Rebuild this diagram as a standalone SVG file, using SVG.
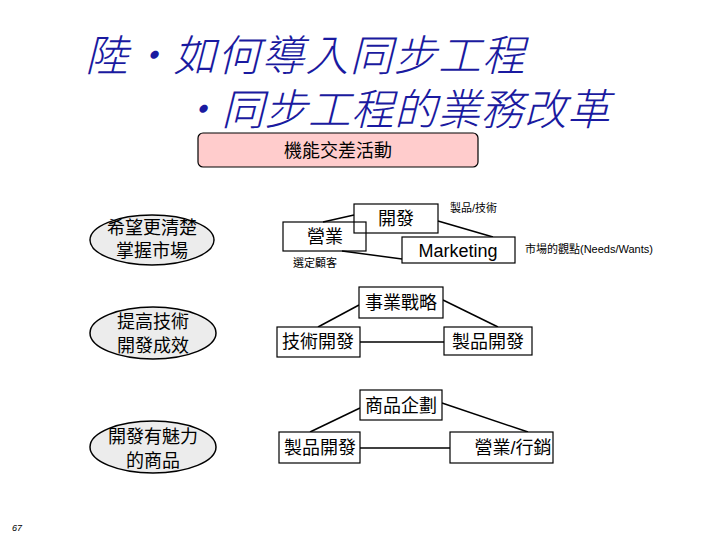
<svg xmlns="http://www.w3.org/2000/svg" width="720" height="540" viewBox="0 0 720 540">
<style>
.title{font-family:"Noto Sans CJK TC","Liberation Sans",sans-serif;font-style:italic;font-weight:300;fill:#1a1aa0;font-size:43px}
.t{font-family:"Liberation Sans","Noto Sans CJK TC",sans-serif;fill:#000;font-size:18px;text-anchor:middle}
.s{font-family:"Liberation Sans","Noto Sans CJK TC",sans-serif;fill:#000;font-size:11px}
.box{fill:#fff;stroke:#000;stroke-width:1.2}
.obox{fill:none;stroke:#000;stroke-width:1.2}
.ell{fill:#ececec;stroke:#000;stroke-width:1.5}
.ln{stroke:#000;stroke-width:1.5;fill:none}
</style>
<rect width="720" height="540" fill="#fff"/>
<g id="title">
<text class="title" x="85" y="71" textLength="440" lengthAdjust="spacing">陸・如何導入同步工程</text>
<text class="title" x="178" y="125" textLength="432" lengthAdjust="spacing">・同步工程的業務改革</text>
</g>
<g id="header">
<rect x="198" y="133" width="280" height="34" rx="5" fill="#ffcccc" stroke="#000" stroke-width="1.2"/>
<text class="t" x="338" y="157" font-size="17">機能交差活動</text>
</g>
<g id="connectors">
<line class="ln" x1="323" y1="222" x2="354" y2="215"/>
<line class="ln" x1="438" y1="221" x2="493" y2="237"/>
<line class="ln" x1="342" y1="251" x2="402" y2="259"/>
<line class="ln" x1="318" y1="327" x2="359" y2="305"/>
<line class="ln" x1="443" y1="300" x2="498" y2="327"/>
<line class="ln" x1="360" y1="342" x2="444" y2="342"/>
<line class="ln" x1="310" y1="432" x2="360" y2="408"/>
<line class="ln" x1="442" y1="403" x2="528" y2="432"/>
<line class="ln" x1="360" y1="448" x2="450" y2="448"/>
</g>
<g id="ellipse1">
<ellipse class="ell" cx="152" cy="240" rx="62" ry="25"/>
<text class="t" x="152" y="234">希望更清楚</text>
<text class="t" x="152" y="257">掌握市場</text>
</g>
<g id="ellipse2">
<ellipse class="ell" cx="153" cy="333" rx="63" ry="26"/>
<text class="t" x="153" y="328">提高技術</text>
<text class="t" x="153" y="352">開發成效</text>
</g>
<g id="ellipse3">
<ellipse class="ell" cx="153" cy="447" rx="63" ry="26"/>
<text class="t" x="153" y="443">開發有魅力</text>
<text class="t" x="153" y="467">的商品</text>
</g>
<g id="eigyo">
<rect class="obox" x="283" y="222" width="83" height="29"/>
<text class="t" x="325" y="243">營業</text>
</g>
<g id="kaihatsu">
<rect class="obox" x="354" y="204" width="84" height="29"/>
<text class="t" x="396" y="225">開發</text>
</g>
<g id="marketing">
<rect class="box" x="402" y="237" width="113" height="26"/>
<text class="t" x="458" y="257">Marketing</text>
</g>
<g id="labels">
<text class="s" x="450" y="212">製品/技術</text>
<text class="s" x="525" y="253">市場的觀點(Needs/Wants)</text>
<text class="s" x="293" y="267">選定顧客</text>
</g>
<g id="senryaku">
<rect class="box" x="359" y="287" width="84" height="31"/>
<text class="t" x="401" y="309">事業戰略</text>
</g>
<g id="gijutsu">
<rect class="box" x="277" y="327" width="83" height="30"/>
<text class="t" x="318" y="348">技術開發</text>
</g>
<g id="seihin1">
<rect class="box" x="444" y="327" width="88" height="28"/>
<text class="t" x="488" y="348">製品開發</text>
</g>
<g id="kikaku">
<rect class="box" x="360" y="390" width="82" height="30"/>
<text class="t" x="401" y="412">商品企劃</text>
</g>
<g id="seihin2">
<rect class="box" x="279" y="432" width="81" height="31"/>
<text class="t" x="320" y="454">製品開發</text>
</g>
<g id="eigyo2">
<rect class="box" x="450" y="432" width="103" height="31"/>
<text class="t" x="513" y="454">營業/行銷</text>
</g>
<g id="page">
<text x="12" y="531" font-family="Liberation Sans,sans-serif" font-size="9" font-style="italic">67</text>
</g>
</svg>
